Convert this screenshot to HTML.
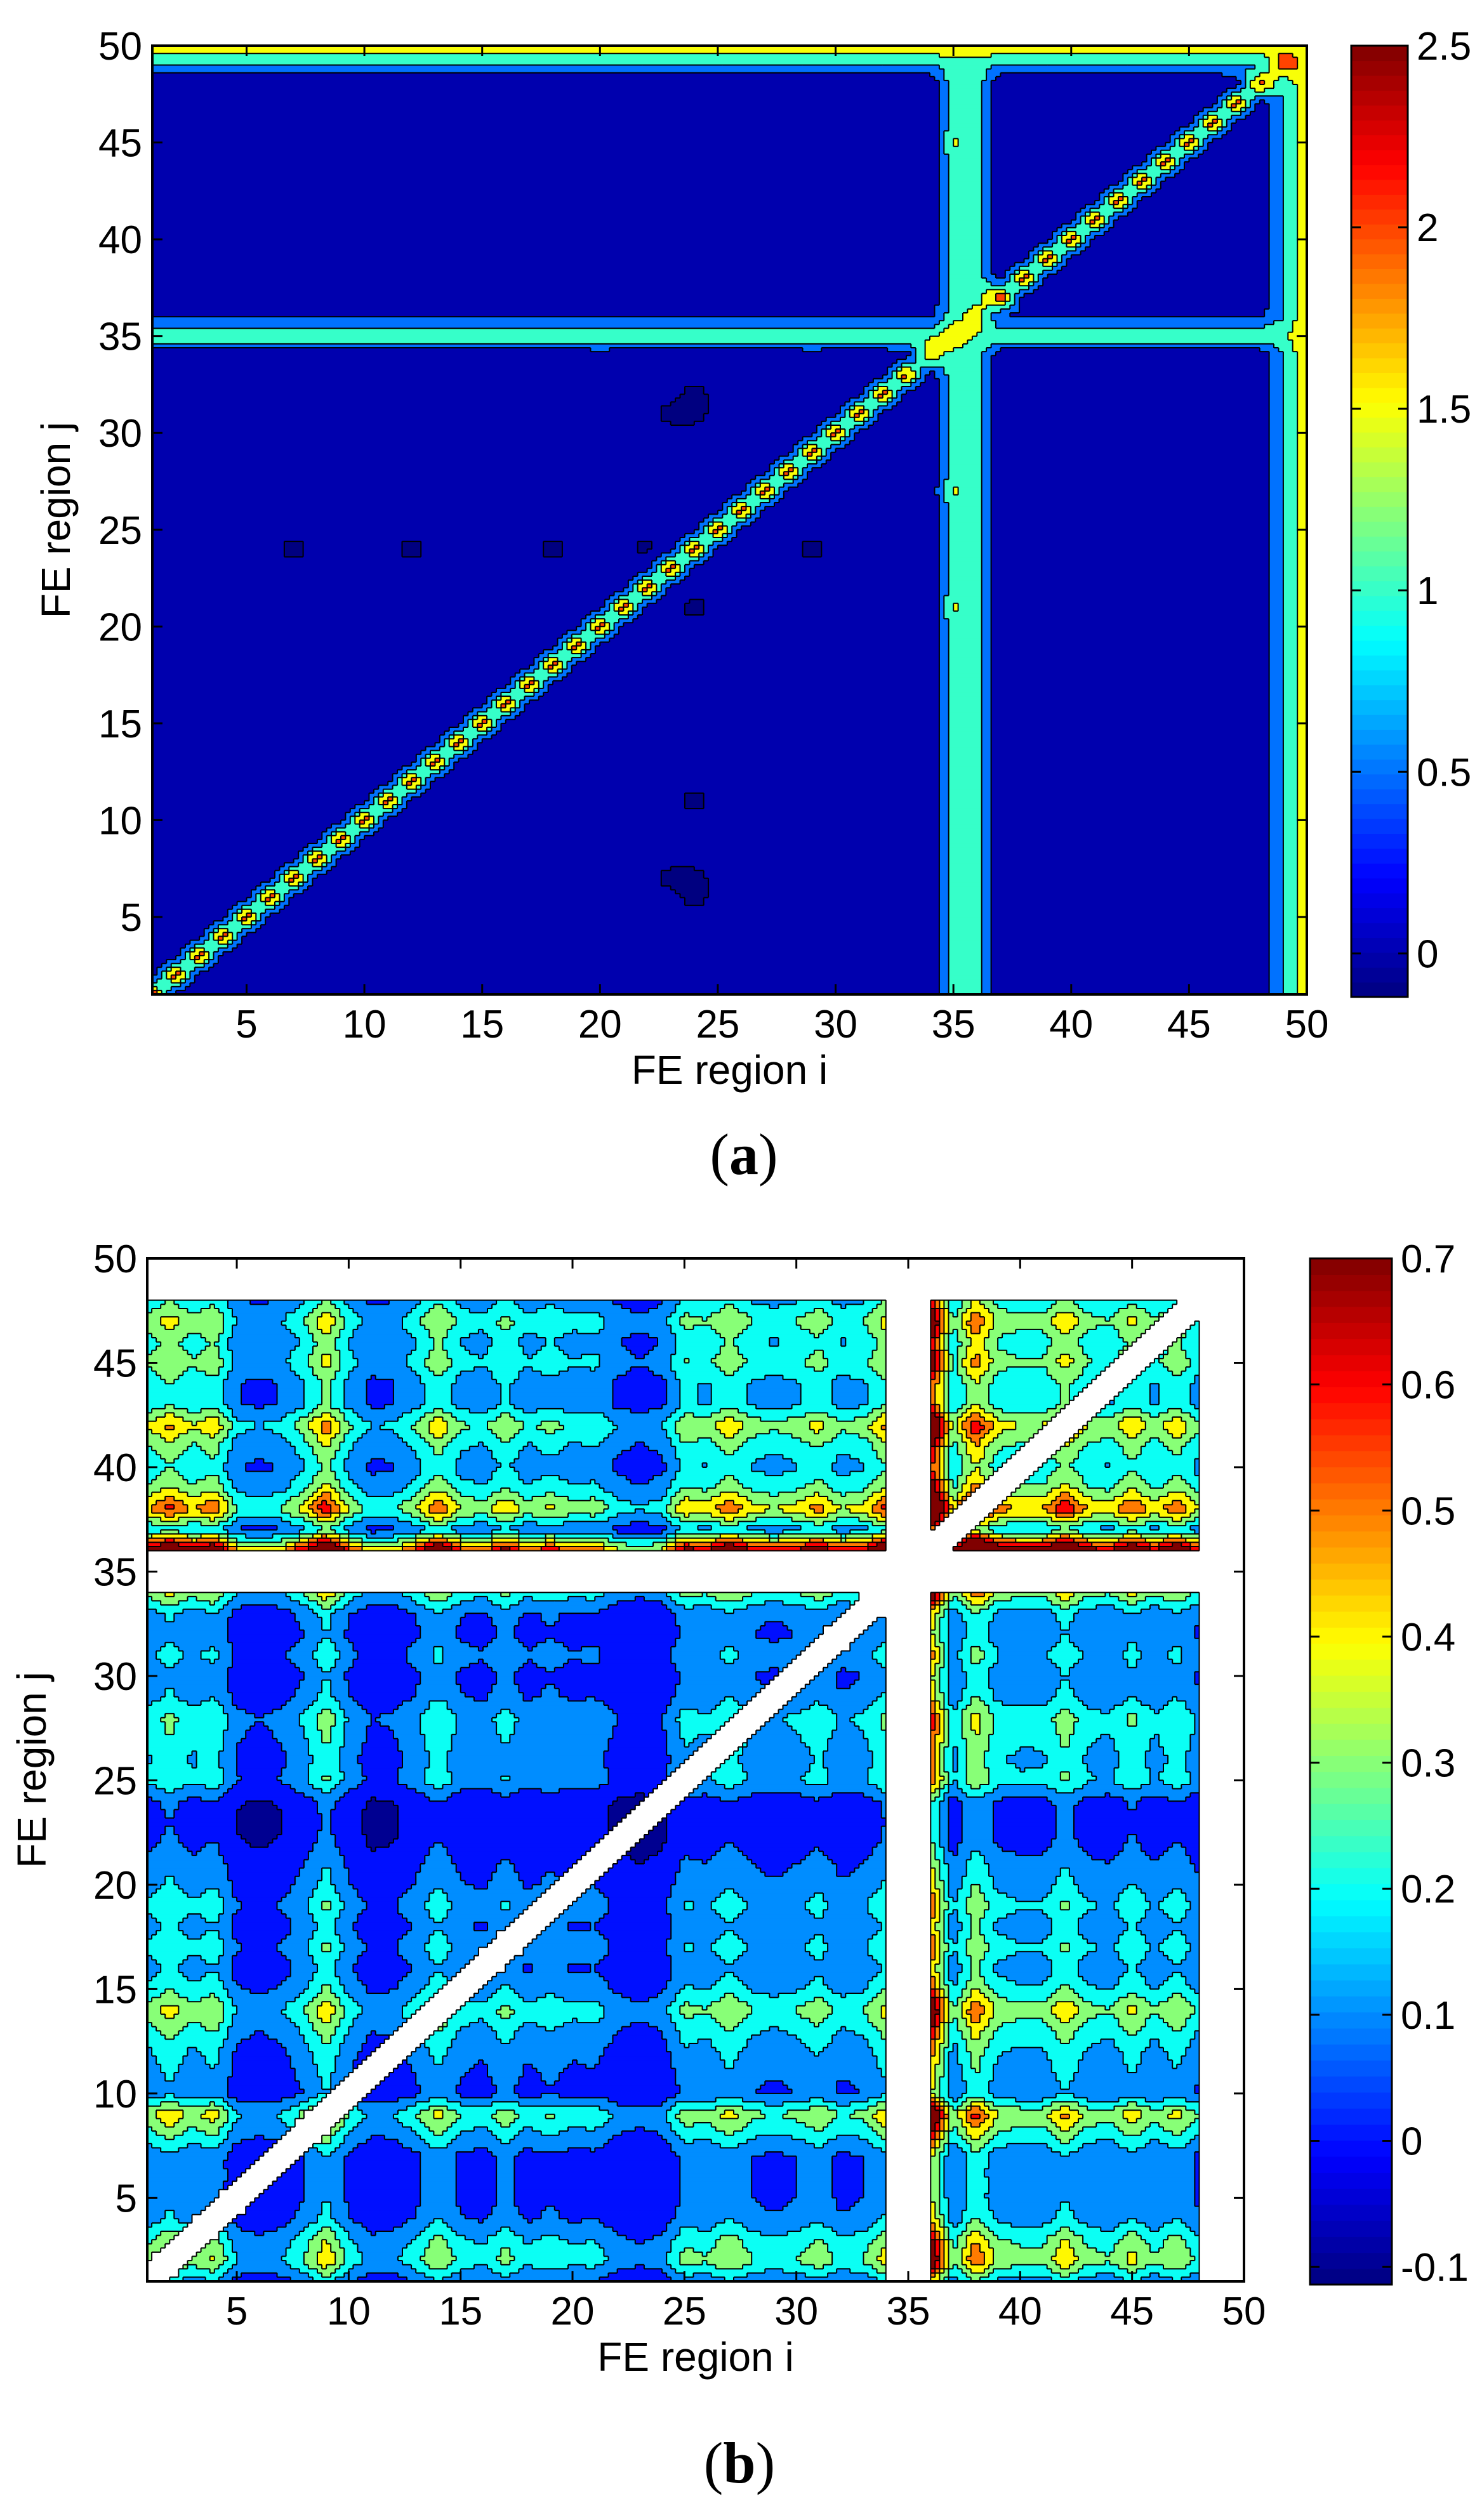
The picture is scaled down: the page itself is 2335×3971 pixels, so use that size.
<!DOCTYPE html>
<html><head><meta charset="utf-8"><style>
html,body{margin:0;padding:0;background:#fff;}
svg{display:block;}
text{font-family:"Liberation Sans",Arial,sans-serif;fill:#000;}
</style></head><body>
<svg id="fig" width="2335" height="3971" viewBox="0 0 2335 3971" xmlns="http://www.w3.org/2000/svg">
<rect x="0" y="0" width="2335" height="3971" fill="#fff"/>
<g id="pa"></g>
<g id="pb"></g>
</svg>
<script>
// ---------- Panel (a) data ----------
const aTicks = [5,10,15,20,25,30,35,40,45,50];
const aRow = [0.05,0.05,0.05,0.05,0.05,0.05,0.05,0.05,0.05,0.05,
              0.05,0.05,0.05,0.05,0.05,0.05,0.05,0.05,0.05,0.05,
              0.05,0.05,0.05,0.05,0.05,0.05,0.05,0.05,0.05,0.05,
              0.05,0.05,0.05,0.05,1.45,0.40,0.05,0.05,0.05,0.05,
              0.05,0.05,0.05,0.05,0.05,0.05,0.05,0.05,0.90,1.90];
const aCol = [0.05,0.05,0.05,0.05,0.05,0.05,0.05,0.05,0.05,0.05,
              0.05,0.05,0.05,0.05,0.05,0.05,0.05,0.05,0.05,0.05,
              0.05,0.05,0.05,0.05,0.05,0.05,0.05,0.05,0.05,0.05,
              0.05,0.05,0.05,0.05,1.30,1.30,0.05,0.05,0.05,0.05,
              0.05,0.05,0.05,0.05,0.05,0.05,0.05,0.05,1.00,1.90];
const aDiag = [2.4,2.4,2.4,2.4,2.4,2.4,2.4,2.4,2.4,2.4,
               2.4,2.4,2.4,2.4,2.4,2.4,2.4,2.4,2.4,2.4,
               2.4,2.4,2.4,2.4,2.4,2.4,2.4,2.4,2.4,2.4,
               2.4,2.4,2.4,1.8,1.9,1.8,2.4,2.4,2.4,2.4,
               2.4,2.4,2.4,2.4,2.4,2.4,2.4,2.3,2.3,1.7];
const aNearDiag = 0.2;
const aSpots = [[7,24,-0.06],[12,24,-0.06],[18,24,-0.06],[22,24,-0.06],[29,24,-0.06],
                [24,31,-0.06],[24,32,-0.06],[23,31,-0.06],[24,21,-0.06],[24,11,-0.06],[24,6,-0.06],[24,7,-0.06],[23,7,-0.06],
                [1,38,0.6],[14,42,0.6],[12,38,0.55],[38,45,0.6],[38,2,0.6],[38,14,0.6],[46,24,0.55],
                [35,27,1.6],[35,21,1.55],[35,45,1.55],[20,35,1.6],[29,35,1.6],[47,35,1.55]];
const aLevels = [0,0.5,1,1.5,2,2.5];
const aCbarTicks = [2.5,2,1.5,1,0.5,0];
const aCbarLabels = ['2.5','2','1.5','1','0.5','0'];

// ---------- Panel (b) data ----------
const bTicks = [5,10,15,20,25,30,35,40,45,50];
const bBase = 0.02;
const bCol = [0.10,0.16,0.10,0.14,0.02,0.00,0.02,0.08,0.18,0.06,
              0.00,0.01,0.06,0.14,0.06,0.04,0.10,0.04,0.07,0.04,
              0.05,0.00,-0.02,0.00,0.10,0.08,0.14,0.08,0.06,0.08,
              0.12,0.06,0.08,0.16,0.00,0.40,0.08,0.24,0.12,0.10,
              0.10,0.18,0.10,0.08,0.15,0.08,0.14,0.06,0.00,0.00];
const bRow = [0.02,0.14,0.10,0.02,0.00,0.00,0.00,0.08,0.16,0.00,
              0.02,0.04,0.08,0.14,0.06,0.02,0.06,0.02,0.06,0.02,
              0.00,-0.03,-0.04,-0.03,0.06,0.04,0.06,0.08,0.02,0.00,
              0.04,0.00,0.02,0.14,0.00,0.42,0.04,0.24,0.12,0.06,
              0.10,0.18,0.06,0.06,0.12,0.08,0.14,0.06,0.00,0.00];
const bGapIdx = [35];
const bMaxIdx = 48;
const bLevels = [-0.1,0,0.1,0.2,0.3,0.4,0.5,0.6,0.7];
const bCbarTicks = [0.7,0.6,0.5,0.4,0.3,0.2,0.1,0,-0.1];
const bCbarLabels = ['0.7','0.6','0.5','0.4','0.3','0.2','0.1','0','-0.1'];

const NS = 'http://www.w3.org/2000/svg';
function jet(f){
  f = Math.max(0, Math.min(1, f));
  const cl = v => Math.max(0, Math.min(1, v));
  const r = cl(Math.min(4*f-1.5, -4*f+4.5));
  const g = cl(Math.min(4*f-0.5, -4*f+3.5));
  const b = cl(Math.min(4*f+0.5, -4*f+2.5));
  return 'rgb(' + Math.round(r*255) + ',' + Math.round(g*255) + ',' + Math.round(b*255) + ')';
}
function mk(tag, attrs, parent){
  const e = document.createElementNS(NS, tag);
  for (const k in attrs) e.setAttribute(k, attrs[k]);
  parent.appendChild(e);
  return e;
}

function buildMatrixA(){
  const M = [];
  for (let j=1;j<=50;j++){ const row=[]; for(let i=1;i<=50;i++){
    let v = Math.max(aRow[j-1], aCol[i-1]);
    if (i===j) v = aDiag[i-1];
    else if (Math.abs(i-j)===1) v = Math.max(v, aNearDiag);
    row.push(v);
  } M.push(row); }
  aSpots.forEach(s => { M[s[1]-1][s[0]-1] = s[2]; });
  return M;
}
function buildMatrixB(){
  const M = [];
  for (let j=1;j<=50;j++){ const row=[]; for(let i=1;i<=50;i++){
    const c=bCol[i-1], r=bRow[j-1];
    row.push(bBase + c + r + 6*c*r);
  } M.push(row); }
  return M;
}

function drawPanel(g, cfg){
  const {M, X0, X1, Y0, Y1, levels, cmin, cmax, mask} = cfg;
  const xPix = v => X0 + (v-1)*(X1-X0)/49;
  const yPix = v => Y1 - (v-1)*(Y1-Y0)/49;
  const h = 0.2, N = Math.round(49/h);
  const bins = [];
  for (let sy=0; sy<N; sy++){
    const row = [];
    const y = 1 + (sy+0.5)*h;
    for (let sx=0; sx<N; sx++){
      const x = 1 + (sx+0.5)*h;
      if (mask && mask(x,y)) { row.push(-99); continue; }
      let k = Math.min(48, Math.floor(x-1)), l = Math.min(48, Math.floor(y-1));
      const u = x-1-k, w = y-1-l;
      const v = (1-u)*(1-w)*M[l][k] + u*(1-w)*M[l][k+1] + (1-u)*w*M[l+1][k] + u*w*M[l+1][k+1];
      let idx = -1;
      for (let q=0;q<levels.length;q++) if (v >= levels[q]) idx = q;
      row.push(idx);
    }
    bins.push(row);
  }
  const colorOf = idx => idx < 0 ? jet(0) : jet((levels[idx]-cmin)/(cmax-cmin));
  const cells = mk('g', {}, g);
  
  
  for (let sy=0; sy<N; sy++){
    let sx = 0;
    while (sx < N){
      const b = bins[sy][sx]; let e = sx;
      while (e+1 < N && bins[sy][e+1] === b) e++;
      if (b !== -99){
        const xa = xPix(1+sx*h), xb = xPix(1+(e+1)*h);
        const ya = yPix(1+(sy+1)*h), yb = yPix(1+sy*h);
        const r = mk('rect', {x:xa.toFixed(1), y:ya.toFixed(1), width:(xb-xa+0.6).toFixed(1), height:(yb-ya+0.6).toFixed(1), fill:colorOf(b)}, cells);
        
        
      }
      sx = e+1;
    }
  }
  let d = '';
  for (let sy=0; sy<N; sy++){
    for (let sx=0; sx<N; sx++){
      const b = bins[sy][sx];
      if (sx+1 < N && bins[sy][sx+1] !== b){
        const xx = xPix(1+(sx+1)*h);
        d += 'M'+xx.toFixed(1)+' '+yPix(1+(sy+1)*h).toFixed(1)+'V'+yPix(1+sy*h).toFixed(1);
      }
      if (sy+1 < N && bins[sy+1][sx] !== b){
        const yy = yPix(1+(sy+1)*h);
        d += 'M'+xPix(1+sx*h).toFixed(1)+' '+yy.toFixed(1)+'H'+xPix(1+(sx+1)*h).toFixed(1);
      }
    }
  }
  const lines = mk('path', {d:d, stroke:'#000', 'stroke-width':2, fill:'none'}, g);
  
  
}

function drawAxes(g, cfg){
  const {X0,X1,Y0,Y1,ticks,xLabelY,yLabelX,tag,tagY,tagX} = cfg;
  const xPix = v => X0 + (v-1)*(X1-X0)/49;
  const yPix = v => Y1 - (v-1)*(Y1-Y0)/49;
  const box = mk('rect', {x:X0, y:Y0, width:X1-X0, height:Y1-Y0, fill:'none', stroke:'#000', 'stroke-width':4}, g);
  
  
  ticks.forEach(t => {
    const x = xPix(t), y = yPix(t);
    mk('path', {d:`M${x} ${Y1}v-16M${x} ${Y0}v16M${X0} ${y}h16M${X1} ${y}h-16`, stroke:'#000', 'stroke-width':3}, g);
    const tx = mk('text', {x:x, y:Y1+68, 'font-size':62, 'text-anchor':'middle'}, g);
    tx.textContent = t;
    
    
    const ty = mk('text', {x:X0-16, y:y+22, 'font-size':62, 'text-anchor':'end'}, g);
    ty.textContent = t;
    
    
  });
  const xl = mk('text', {x:(X0+X1)/2, y:xLabelY, 'font-size':64, 'text-anchor':'middle'}, g);
  xl.textContent = 'FE region i';
  
  
  const yc = (Y0+Y1)/2;
  const yl = mk('text', {x:yLabelX, y:yc, 'font-size':64, 'text-anchor':'middle', transform:`rotate(-90 ${yLabelX} ${yc})`}, g);
  yl.textContent = 'FE region j';
  
  
  const tg = mk('text', {x:tagX, y:tagY, 'font-size':92, 'text-anchor':'middle', style:'font-family:"Liberation Serif",serif'}, g);
  tg.innerHTML = '(<tspan font-weight="bold">' + tag + '</tspan>)';
  
  
}

function drawCbar(g, cfg){
  const {CX0,CX1,CY0,CY1,cmin,cmax,tickVals,tickLabels} = cfg;
  const cb = mk('g', {}, g);
  
  
  const vy = v => CY1 - (v-cmin)/(cmax-cmin)*(CY1-CY0);
  for (let k=0;k<64;k++){
    const ya = CY1 - (k+1)/64*(CY1-CY0), yb = CY1 - k/64*(CY1-CY0);
    mk('rect', {x:CX0, y:ya.toFixed(1), width:CX1-CX0, height:(yb-ya+0.7).toFixed(1), fill:jet((k+0.5)/64)}, cb);
  }
  mk('rect', {x:CX0, y:CY0, width:CX1-CX0, height:CY1-CY0, fill:'none', stroke:'#000', 'stroke-width':3}, cb);
  tickVals.forEach((v,i) => {
    const y = vy(v);
    mk('path', {d:`M${CX0} ${y}h15M${CX1} ${y}h-15`, stroke:'#000', 'stroke-width':3}, cb);
    const t = mk('text', {x:CX1+14, y:y+22, 'font-size':62}, cb);
    t.textContent = tickLabels[i];
    
    
  });
}

// Panel a
const pa = document.getElementById('pa');
const MA = buildMatrixA();
drawPanel(pa, {M:MA, X0:240, X1:2059, Y0:72, Y1:1567, levels:aLevels, cmin:-0.12, cmax:2.5, mask:null});
drawAxes(pa, {X0:240, X1:2059, Y0:72, Y1:1567, ticks:aTicks, xLabelY:1708, yLabelX:110, tag:'a', tagY:1850, tagX:1172});
drawCbar(pa, {CX0:2129, CX1:2218, CY0:72, CY1:1571, cmin:-0.12, cmax:2.5, tickVals:aCbarTicks, tickLabels:aCbarLabels});

// Panel b
const pb = document.getElementById('pb');
const MB = buildMatrixB();
const bMask = (x,y) => {
  for (const gi of bGapIdx){ if (Math.abs(x-gi) < 1 || Math.abs(y-gi) < 1) return true; }
  if (x > bMaxIdx || y > bMaxIdx) return true;
  if (Math.abs(x-y) < 1) return true;
  return false;
};
drawPanel(pb, {M:MB, X0:232, X1:1960, Y0:1983, Y1:3595, levels:bLevels, cmin:-0.114, cmax:0.7, mask:bMask});
drawAxes(pb, {X0:232, X1:1960, Y0:1983, Y1:3595, ticks:bTicks, xLabelY:3736, yLabelX:72, tag:'b', tagY:3912, tagX:1165});
drawCbar(pb, {CX0:2064, CX1:2193, CY0:1983, CY1:3600, cmin:-0.114, cmax:0.7, tickVals:bCbarTicks, tickLabels:bCbarLabels});
</script>
</body></html>
